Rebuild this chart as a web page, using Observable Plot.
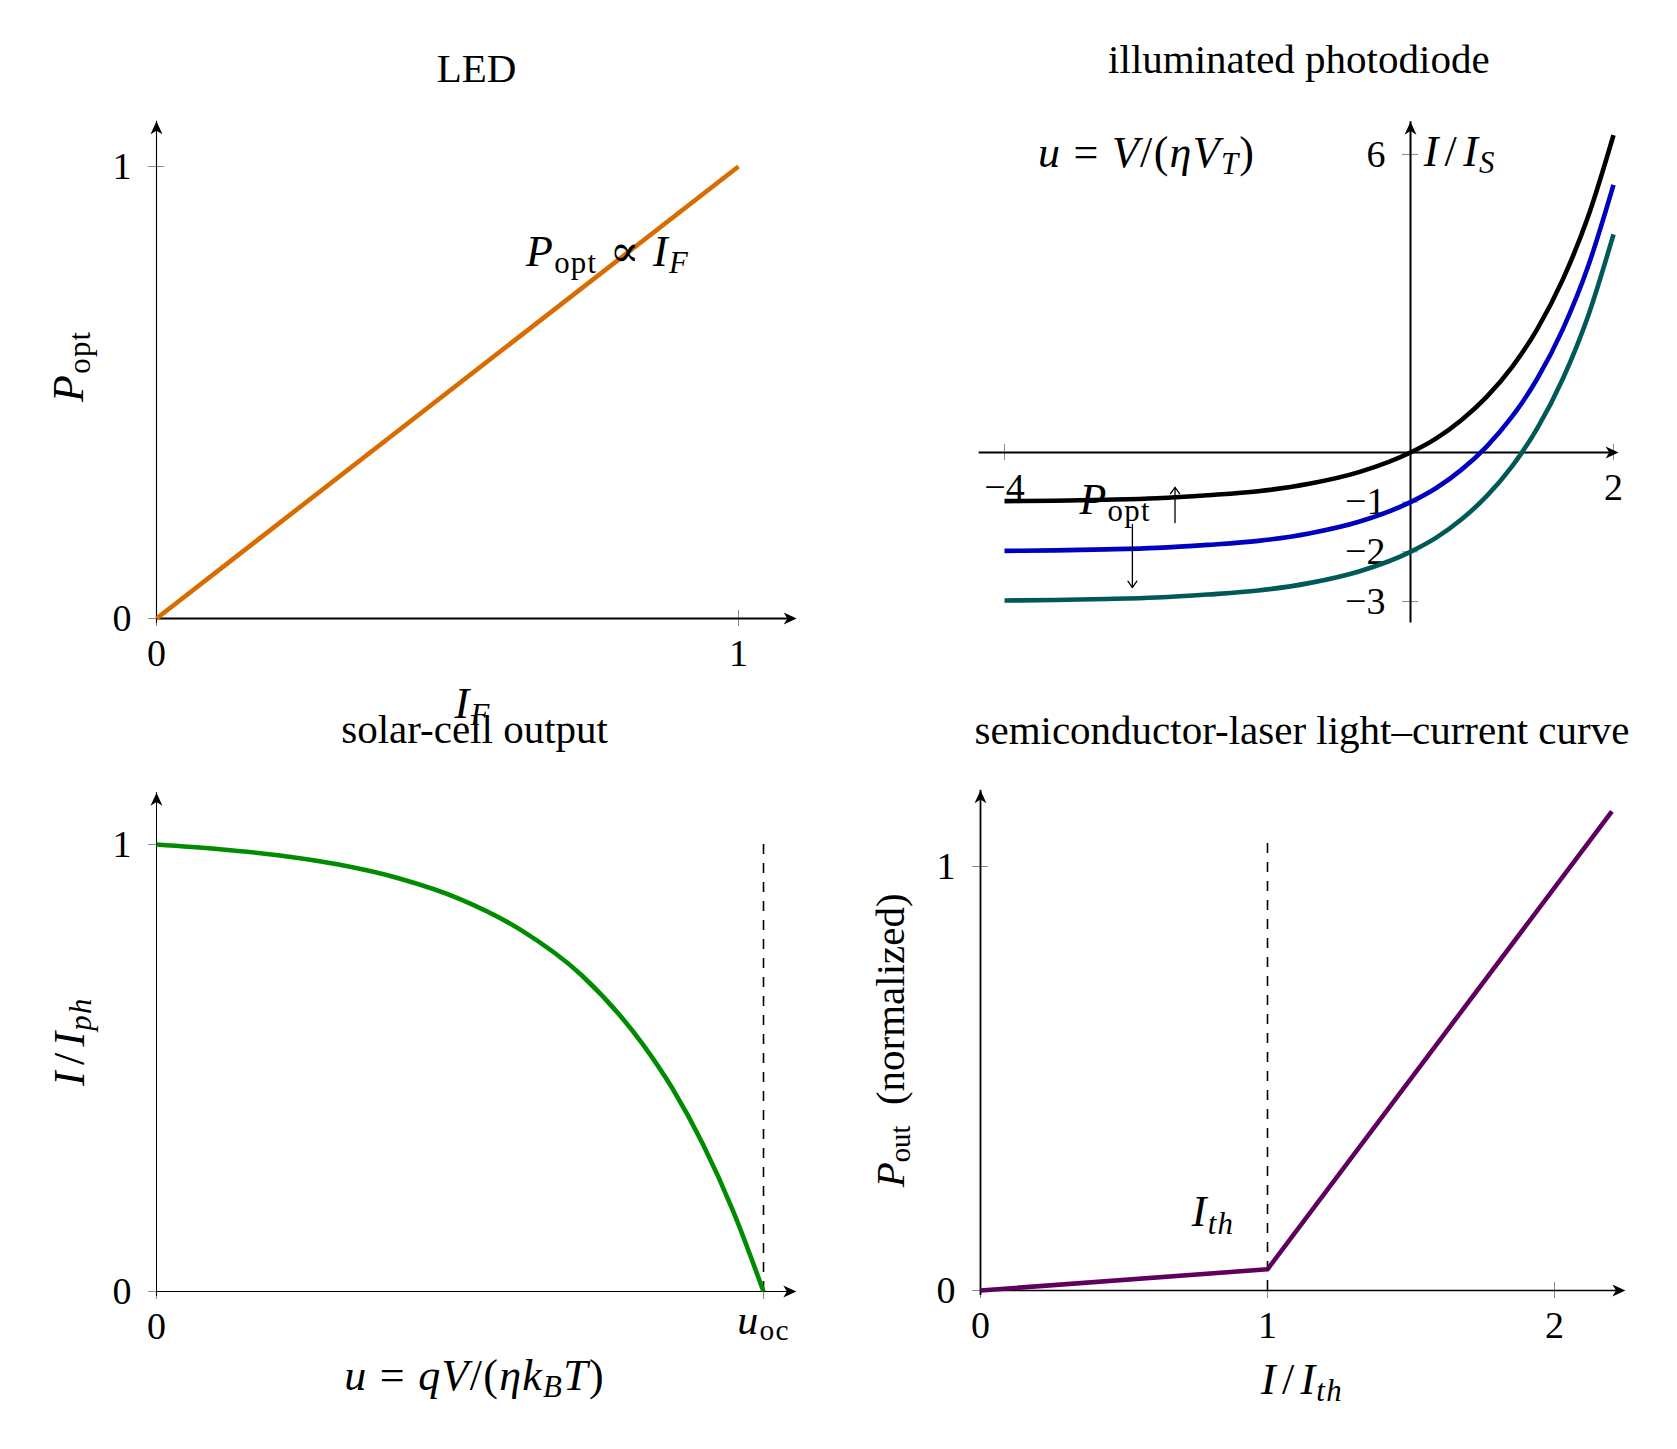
<!DOCTYPE html>
<html><head><meta charset="utf-8">
<script src="https://cdn.jsdelivr.net/npm/d3@7"></script>
<script src="https://cdn.jsdelivr.net/npm/@observablehq/plot@0.6"></script>
<style>
body{margin:0;background:#fff;}
#wrap{position:relative;width:1677px;height:1449px;background:#fff;overflow:hidden;}
</style></head><body><div id="wrap"></div>
<script>
// ---------------- data ----------------
// LED: P_opt proportional to I_F
const ledCurrent = [0, 1];
const ledPower = [0, 1];
const ledXTicks = [0, 1];
const ledYTicks = [0, 1];

// Illuminated photodiode: u vs I/I_S for three optical powers
const pdU = [-4, -3.5, -3, -2.5, -2, -1.5, -1, -0.5, 0, 0.25, 0.5, 0.75, 1, 1.25, 1.5, 1.75, 2];
const pdDark = [-0.98, -0.97, -0.95, -0.92, -0.86, -0.78, -0.63, -0.39, 0, 0.28, 0.65, 1.12, 1.72, 2.49, 3.48, 4.75, 6.39];
const pdMid = [-1.98, -1.97, -1.95, -1.92, -1.86, -1.78, -1.63, -1.39, -1, -0.72, -0.35, 0.12, 0.72, 1.49, 2.48, 3.75, 5.39];
const pdHigh = [-2.98, -2.97, -2.95, -2.92, -2.86, -2.78, -2.63, -2.39, -2, -1.72, -1.35, -0.88, -0.28, 0.49, 1.48, 2.75, 4.39];
const pdXTicks = [-4, 2];
const pdYTicks = [-3, -2, -1, 6];

// Solar cell: I/I_ph vs u (u_oc = 1)
const solarU = [0, 0.1, 0.2, 0.3, 0.4, 0.5, 0.6, 0.7, 0.8, 0.85, 0.9, 0.95, 1];
const solarI = [1, 0.99, 0.976, 0.955, 0.924, 0.878, 0.809, 0.708, 0.555, 0.454, 0.33, 0.18, 0];
const solarXTicks = [0, 1];
const solarYTicks = [0, 1];

// Semiconductor laser L-I curve
const laserI = [0, 1, 2.2];
const laserP = [0, 0.05, 1.13];
const laserXTicks = [0, 1, 2];
const laserYTicks = [0, 1];

// ---------------- helpers ----------------
const W = 1677, H = 1449;
const FONT = "Liberation Serif, Times New Roman, DejaVu Serif, serif";
const TICKGRAY = "#8a8a8a";
const fmt = d => d < 0 ? "\u2212" + Math.abs(d) : String(d);

const stealth = {
  draw(ctx, size) {
    const L = Math.sqrt(size / Math.PI), w = L * 0.46;
    ctx.moveTo(0, 0);
    ctx.lineTo(w, L);
    ctx.lineTo(0, L * 0.72);
    ctx.lineTo(-w, L);
    ctx.closePath();
  }
};

function parseMath(src) {
  const out = [];
  function push(ch, sub, roman) {
    const italic = !roman && /[A-Za-z\u03b1-\u03c9]/.test(ch);
    const last = out[out.length - 1];
    if (last && last.italic === italic && last.sub === sub) last.text += ch;
    else out.push({text: ch, italic, sub});
  }
  let i = 0;
  while (i < src.length) {
    if (src[i] === "_") {
      i++;
      let grp, roman = false;
      if (src.startsWith("\\r{", i)) { roman = true; i += 3; const j = src.indexOf("}", i); grp = src.slice(i, j); i = j + 1; }
      else if (src[i] === "{") { const j = src.indexOf("}", i); grp = src.slice(i + 1, j); i = j + 1; }
      else { grp = src[i]; i++; }
      for (const c of grp) push(c, true, roman);
      continue;
    }
    if (src.startsWith("\\r{", i)) {
      i += 3; const j = src.indexOf("}", i);
      for (const c of src.slice(i, j)) push(c, false, true);
      i = j + 1; continue;
    }
    push(src[i], false, false); i++;
  }
  return out;
}

function mathify(svg) {
  for (const t of svg.querySelectorAll("text")) {
    let s = t.textContent;
    if (!s.startsWith("$")) continue;
    s = s.slice(1);
    if (s.startsWith("~")) { s = s.slice(1); t.setAttribute("letter-spacing", "1.3"); }
    const runs = parseMath(s);
    t.textContent = "";
    let inSub = false;
    for (const r of runs) {
      const ts = document.createElementNS("http://www.w3.org/2000/svg", "tspan");
      ts.textContent = r.text;
      if (r.italic) ts.setAttribute("font-style", "italic");
      if (r.sub) {
        ts.setAttribute("font-size", "70%");
        if (!inSub) ts.setAttribute("dy", "0.23em");
      } else if (inSub) {
        ts.setAttribute("dy", "-0.161em");
      }
      inSub = r.sub;
      t.appendChild(ts);
    }
  }
}

function panel({xPx, yPx, xDomain, yDomain, marks}) {
  const svg = Plot.plot({
    width: W, height: H,
    marginLeft: xPx[0], marginRight: W - xPx[1],
    marginTop: yPx[1], marginBottom: H - yPx[0],
    x: {domain: xDomain, axis: null},
    y: {domain: yDomain, axis: null},
    style: "background: transparent; overflow: visible; position: absolute; left: 0; top: 0; max-width: none;",
    marks
  });
  mathify(svg);
  document.getElementById("wrap").appendChild(svg);
}

// axis builder: lines, arrows, ticks, tick labels
function axes({xEnd, yEnd, xStart = 0, yStart = 0, xw, yw, xTicks, yTicks, xLabelTicks}) {
  return [
    Plot.ruleX(xTicks, {y1: 0, y2: 0, insetTop: -8, insetBottom: -8, stroke: TICKGRAY, strokeWidth: 1}),
    Plot.ruleY(yTicks, {x1: 0, x2: 0, insetLeft: -8, insetRight: -8, stroke: TICKGRAY, strokeWidth: 1}),
    Plot.ruleX([0], {y1: yStart, y2: yEnd, stroke: "black", strokeWidth: yw, insetTop: 5}),
    Plot.ruleY([0], {x1: xStart, x2: xEnd, stroke: "black", strokeWidth: xw, insetRight: 5}),
    Plot.dot([{x: xEnd, y: 0, a: 90}, {x: 0, y: yEnd, a: 0}], {x: "x", y: "y", rotate: "a", symbol: stealth, r: 13, fill: "black", stroke: "none"}),
    Plot.text(xLabelTicks ?? xTicks, {x: d => d, y: 0, text: fmt, dy: 35, lineAnchor: "middle", fontSize: 38, fontFamily: FONT, fill: "black"}),
    Plot.text(yTicks, {x: 0, y: d => d, text: fmt, dx: -25, textAnchor: "end", lineAnchor: "middle", fontSize: 38, fontFamily: FONT, fill: "black"})
  ];
}

const label = (txt, x, y, opts = {}) =>
  Plot.text([txt], {x, y, text: d => d, fontSize: 44, fontFamily: FONT, fill: "black", lineAnchor: "bottom", ...opts});

// ---------------- LED ----------------
const ledData = ledCurrent.map((c, i) => ({c, p: ledPower[i]}));
panel({
  xPx: [156, 738], yPx: [618, 166], xDomain: [0, 1], yDomain: [0, 1],
  marks: [
    ...axes({xEnd: 1.10, yEnd: 1.10, xw: 1.8, yw: 1.1, xTicks: ledXTicks, yTicks: ledYTicks}),
    Plot.line(ledData, {x: "c", y: "p", stroke: "#D96C00", strokeWidth: 4.6, strokeLinecap: "butt"}),
    label("$~P_\\r{opt} \u221d I_F", 0.775, 0.78),
    label("LED", 0.55, 1.186, {fontSize: 41}),
    label("$~I_F", 0.543, -0.221),
    label("$~P_\\r{opt}", -0.151, 0.558, {rotate: -90, lineAnchor: "middle"})
  ]
});

// ---------------- photodiode ----------------
const pdData = [
  ...pdU.map((u, i) => ({u, v: pdDark[i], s: "dark"})),
  ...pdU.map((u, i) => ({u, v: pdMid[i], s: "mid"})),
  ...pdU.map((u, i) => ({u, v: pdHigh[i], s: "high"}))
];
const pdColors = {dark: "#000000", mid: "#0000BF", high: "#005959"};
panel({
  xPx: [1004, 1613], yPx: [601, 154], xDomain: [-4, 2], yDomain: [-3, 6],
  marks: [
    ...axes({xStart: -4.25, yStart: -3.33, xEnd: 2.05, yEnd: 6.66, xw: 2, yw: 2, xTicks: pdXTicks, yTicks: pdYTicks}),
    ...["dark", "mid", "high"].map(s =>
      Plot.line(pdData.filter(d => d.s === s), {x: "u", y: "v", stroke: pdColors[s], strokeWidth: 4.6, curve: "monotone-x", strokeLinecap: "butt"})),
    label("illuminated photodiode", -1.1, 7.65, {fontSize: 41}),
    label("$~u = V/(\u03b7V_T)", -2.6, 5.75),
    label("$~I\u200a/\u200aI_S", 0.13, 5.77, {textAnchor: "start"}),
    label("$~P_\\r{opt}", -2.91, -1.23),
    Plot.arrow([{x1: -2.32, y1: -1.41, x2: -2.32, y2: -0.70}, {x1: -2.74, y1: -1.45, x2: -2.74, y2: -2.72}],
      {x1: "x1", y1: "y1", x2: "x2", y2: "y2", stroke: "black", strokeWidth: 1.3, headLength: 9, headAngle: 70})
  ]
});

// ---------------- solar cell ----------------
const solarData = solarU.map((u, i) => ({u, v: solarI[i]}));
panel({
  xPx: [156, 763], yPx: [1291, 844], xDomain: [0, 1], yDomain: [0, 1],
  marks: [
    ...axes({xEnd: 1.054, yEnd: 1.116, xw: 1.2, yw: 1, xTicks: solarXTicks, yTicks: solarYTicks, xLabelTicks: [0]}),
    Plot.ruleX([1], {y1: 0, y2: 1.008, stroke: "black", strokeWidth: 1.6, strokeDasharray: "10,9"}),
    Plot.line(solarData, {x: "u", y: "v", stroke: "#008C00", strokeWidth: 4.6, curve: "monotone-x", strokeLinecap: "butt"}),
    label("$~u_\\r{oc}", 1, -0.094, {fontSize: 42}),
    label("solar-cell output", 0.524, 1.228, {fontSize: 41}),
    label("$~u = qV/(\u03b7k_BT)", 0.524, -0.221),
    label("$~I\u200a/\u200aI_{ph}", -0.142, 0.559, {rotate: -90, lineAnchor: "middle"})
  ]
});

// ---------------- laser ----------------
const laserData = laserI.map((c, i) => ({c, p: laserP[i]}));
panel({
  xPx: [980, 1554], yPx: [1290, 866], xDomain: [0, 2], yDomain: [0, 1],
  marks: [
    ...axes({xEnd: 2.247, yEnd: 1.18, xw: 1.4, yw: 1.8, xTicks: laserXTicks, yTicks: laserYTicks}),
    Plot.ruleX([1], {y1: 0, y2: 1.063, stroke: "black", strokeWidth: 1.6, strokeDasharray: "10,9"}),
    Plot.line(laserData, {x: "c", y: "p", stroke: "#5E005E", strokeWidth: 4.6, strokeLinecap: "butt"}),
    label("semiconductor-laser light\u2013current curve", 1.12, 1.29, {fontSize: 41}),
    label("$~I_{th}", 0.81, 0.151),
    label("$~I\u200a/\u200aI_{th}", 1.12, -0.243),
    label("$P_\\r{out} \u00a0\\r{(normalized)}", -0.314, 0.59, {rotate: -90, lineAnchor: "middle", fontSize: 41})
  ]
});
</script></body></html>
